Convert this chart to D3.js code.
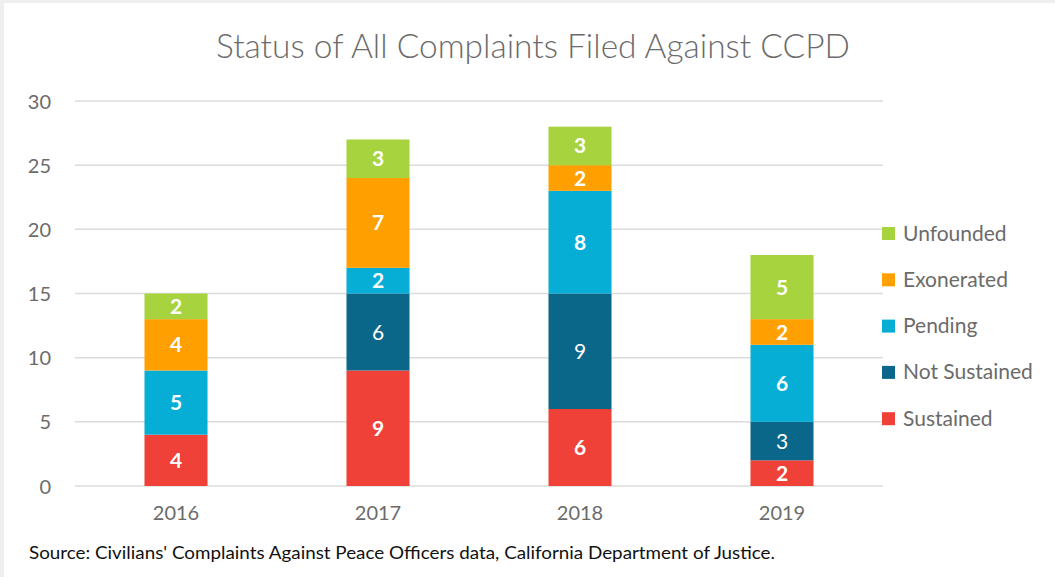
<!DOCTYPE html>
<html>
<head>
<meta charset="utf-8">
<script src="https://cdn.jsdelivr.net/npm/d3@7"></script>
<style>
  html, body { margin: 0; padding: 0; background: #efefef; }
  svg { display: block; }
  text { font-family: Lato, "Open Sans", sans-serif; }
</style>
</head>
<body>
<svg id="chart" width="1055" height="577"></svg>
<script>
// Complaint counts per year, by status
const years = ["2016", "2017", "2018", "2019"];
const statuses = ["Sustained", "Not Sustained", "Pending", "Exonerated", "Unfounded"];
const sustained    = [4, 9, 6, 2];
const notSustained = [0, 6, 9, 3];
const pending      = [5, 2, 8, 6];
const exonerated   = [4, 7, 2, 2];
const unfounded    = [2, 3, 3, 5];
const yTicks = [0, 5, 10, 15, 20, 25, 30];
const colors = ["#ef4137", "#0a6789", "#06aed6", "#ff9f00", "#a6d33e"];

const seriesValues = [sustained, notSustained, pending, exonerated, unfounded];
const rows = years.map((yr, i) => {
  const r = { year: yr };
  statuses.forEach((s, k) => { r[s] = seriesValues[k][i]; });
  return r;
});

const svg = d3.select("#chart");
// white card
svg.append("rect").attr("x", 4).attr("y", 3).attr("width", 1051).attr("height", 574).attr("fill", "#fff");

const plotLeft = 75, plotRight = 883, plotTop = 101, plotBottom = 486;
const x = d3.scaleBand().domain(years).range([plotLeft, plotRight]).paddingInner(0.688).paddingOuter(0.344);
const y = d3.scaleLinear().domain([0, 30]).range([plotBottom, plotTop]);
const color = d3.scaleOrdinal().domain(statuses).range(colors);

// title
svg.append("text")
  .attr("x", 533).attr("y", 58)
  .attr("text-anchor", "middle")
  .attr("font-size", 33).attr("font-weight", 300)
  .attr("fill", "#6b6b6b")
  .attr("textLength", 634).attr("lengthAdjust", "spacingAndGlyphs")
  .text("Status of All Complaints Filed Against CCPD");

// gridlines
svg.append("g").selectAll("line").data(yTicks).join("line")
  .attr("x1", plotLeft).attr("x2", plotRight)
  .attr("y1", d => y(d)).attr("y2", d => y(d))
  .attr("stroke", "#dcdcdc").attr("stroke-width", 1.5);

// y axis labels
const yAxis = svg.append("g").attr("transform", `translate(${plotLeft},0)`)
  .call(d3.axisLeft(y).tickValues(yTicks).tickSize(0).tickPadding(24));
yAxis.select(".domain").remove();
yAxis.selectAll("text").attr("font-size", 20).attr("fill", "#6b6b6b").attr("font-family", "Lato, sans-serif").attr("dy", "0.35em");

// x axis labels
const xAxis = svg.append("g").attr("transform", `translate(0,${plotBottom})`)
  .call(d3.axisBottom(x).tickSize(0).tickPadding(20));
xAxis.select(".domain").remove();
xAxis.selectAll("text").attr("font-size", 20).attr("fill", "#6b6b6b").attr("font-family", "Lato, sans-serif");

// stacked bars
const stacked = d3.stack().keys(statuses)(rows);
const layers = svg.append("g").selectAll("g").data(stacked).join("g")
  .attr("fill", d => color(d.key));
layers.selectAll("rect").data(d => d.filter(s => s[1] - s[0] > 0)).join("rect")
  .attr("x", d => x(d.data.year))
  .attr("width", x.bandwidth())
  .attr("y", d => y(d[1]))
  .attr("height", d => y(d[0]) - y(d[1]));

// value labels
const labels = svg.append("g");
stacked.forEach(layer => {
  layer.forEach(s => {
    const v = s[1] - s[0];
    if (v <= 0) return;
    labels.append("text")
      .attr("x", x(s.data.year) + x.bandwidth() / 2)
      .attr("y", (y(s[0]) + y(s[1])) / 2)
      .attr("dy", "0.36em")
      .attr("text-anchor", "middle")
      .attr("font-size", 21)
      .attr("font-weight", layer.key === "Not Sustained" ? 400 : 700)
      .attr("fill", "#fff")
      .text(v);
  });
});

// legend
const legendItems = statuses.slice().reverse();
const legend = svg.append("g").selectAll("g").data(legendItems).join("g")
  .attr("transform", (d, i) => `translate(882,${233 + i * 46.3})`);
legend.append("rect").attr("x", 0).attr("y", -6).attr("width", 13).attr("height", 13)
  .attr("fill", d => color(d));
legend.append("text").attr("x", 21).attr("y", 0).attr("dy", "0.36em")
  .attr("font-size", 21).attr("fill", "#6b6b6b").text(d => d);

// source note
svg.append("text")
  .attr("x", 29).attr("y", 559)
  .attr("font-size", 18).attr("fill", "#111")
  .attr("textLength", 746).attr("lengthAdjust", "spacingAndGlyphs")
  .text("Source: Civilians' Complaints Against Peace Officers data, California Department of Justice.");
</script>
</body>
</html>
